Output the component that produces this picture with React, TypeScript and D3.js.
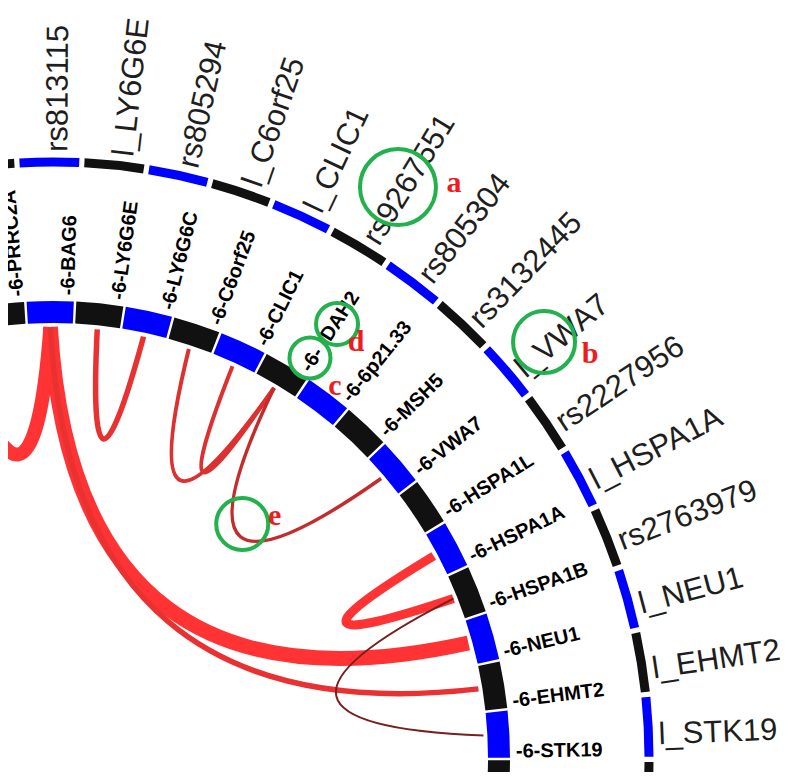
import { useEffect, useRef } from "react";
import * as d3 from "d3";

// ring slots run clockwise; "" = slot whose label falls outside the frame
const innerGenes = ["", "-6-PRRC2A", "-6-BAG6", "-6-LY6G6E", "-6-LY6G6C", "-6-C6orf25",
  "-6-CLIC1", "-6- DAH2", "-6-6p21.33", "-6-MSH5", "-6-VWA7", "-6-HSPA1L",
  "-6-HSPA1A", "-6-HSPA1B", "-6-NEU1", "-6-EHMT2", "-6-STK19", ""];

const outerLoci = ["", "", "rs813115", "l_LY6G6E", "rs805294", "l_C6orf25", "l_CLIC1",
  "rs9267551", "rs805304", "rs3132445", "l_VWA7", "rs2227956", "l_HSPA1A",
  "rs2763979", "l_NEU1", "l_EHMT2", "l_STK19", ""];

// links between inner slots (index into innerGenes) and their weight
const linkSource = [2, 2, 2, 3, 5, 6, 7, 12, 13];
const linkTarget = [0, 14, 15, 4, 7, 7, 10, 13, 16];
const linkWeight = [14, 15, 5.5, 5.5, 4, 4, 3.5, 9, 2];

export default function App() {
  const ref = useRef<SVGSVGElement>(null);

  useEffect(() => {
    const cx = 45, cy = 750;
    const rad = Math.PI / 180;

    const svg = d3.select(ref.current);
    svg.selectAll("*").remove();

    const slots = d3.range(innerGenes.length);
    const innerAngle = d3.scaleBand<number>().domain(slots).range([-15.95, 96.37])
      .paddingInner(0.05).paddingOuter(0.025);
    const outerAngle = d3.scaleBand<number>().domain(slots).range([-15.95, 96.37])
      .paddingInner(0.08).paddingOuter(0.04);
    const segFill = (i: number) => (i % 2 === 0 ? "#0000ff" : "#111111");
    const linkWidth = d3.scaleLinear().domain([0, 15]).range([0, 15]);
    const linkColor = d3.scaleLinear<string>().domain([2, 4, 8])
      .range(["#7a1e1e", "#dd3030", "#ff3333"]).clamp(true);

    const polar = (deg: number, r: number): [number, number] =>
      [r * Math.sin(deg * rad), -r * Math.cos(deg * rad)];

    const g = svg.append("g").attr("transform", `translate(${cx},${cy})`);

    // links: quadratic curves, control point pulled in less for wide spans
    const linkR = 431;
    const innerMid = (i: number) => innerAngle(i)! + innerAngle.bandwidth() / 2;
    const linkGeom = (s: number, t: number) => {
      const a0 = innerMid(s), a1 = innerMid(t);
      const half = (Math.abs(a1 - a0) / 2) * rad;
      const rc = linkR * 0.59 * Math.exp(-3.04 * half);
      return { p0: polar(a0, linkR), p1: polar(a1, linkR), c: polar((a0 + a1) / 2, rc) };
    };
    const links = linkSource.map((s, k) => ({ k, s, t: linkTarget[k], w: linkWeight[k] }))
      .sort((a, b) => b.w - a.w);

    g.append("g")
        .attr("fill", "none")
      .selectAll("path")
      .data(links)
      .join("path")
        .attr("d", d => {
          const { p0, p1, c } = linkGeom(d.s, d.t);
          const p = d3.path();
          p.moveTo(p0[0], p0[1]);
          p.quadraticCurveTo(c[0], c[1], p1[0], p1[1]);
          return p.toString();
        })
        .attr("stroke", d => linkColor(d.w))
        .attr("stroke-width", d => linkWidth(d.w));

    // rings
    const arc = d3.arc<any>();
    g.append("g")
      .selectAll("path")
      .data(slots)
      .join("path")
        .attr("d", i => arc({ innerRadius: 435, outerRadius: 457,
          startAngle: innerAngle(i)! * rad, endAngle: (innerAngle(i)! + innerAngle.bandwidth()) * rad }))
        .attr("fill", segFill);

    g.append("g")
      .selectAll("path")
      .data(slots)
      .join("path")
        .attr("d", i => arc({ innerRadius: 591.5, outerRadius: 600.5,
          startAngle: outerAngle(i)! * rad, endAngle: (outerAngle(i)! + outerAngle.bandwidth()) * rad }))
        .attr("fill", segFill);

    // labels
    const innerLabelAngle = (i: number) => innerAngle(i)! + innerAngle.bandwidth() * 0.85;
    const outerLabelAngle = (i: number) => outerAngle(i)! + outerAngle.bandwidth() * 0.617;
    const innerLabelR = 463, outerLabelR = 606;

    g.append("g")
        .attr("font-family", "'Liberation Sans', Arial, sans-serif")
        .attr("font-weight", "bold")
        .attr("font-size", 20)
        .attr("fill", "#000")
      .selectAll("text")
      .data(slots.filter(i => innerGenes[i]))
      .join("text")
        .attr("transform", i => `rotate(${innerLabelAngle(i) - 90}) translate(${innerLabelR},0)`)
        .attr("dy", "0.35em")
        .each(function (i) {
          d3.select(this).selectAll("tspan")
            .data(innerGenes[i].split(" "))
            .join("tspan")
              .attr("dx", (_d, j) => (j ? 12 : 0))
              .text(d => d);
        });

    g.append("g")
        .attr("font-family", "'Liberation Sans', Arial, sans-serif")
        .attr("font-size", 31)
        .attr("fill", "#1e1e1e")
      .selectAll("text")
      .data(slots.filter(i => outerLoci[i]))
      .join("text")
        .attr("transform", i => `rotate(${outerLabelAngle(i) - 90}) translate(${outerLabelR},0)`)
        .attr("dy", "0.35em")
        .text(i => outerLoci[i]);

    // green call-outs with letters
    const notes = [
      { letter: "a", ring: "outer", slot: 7, along: 61, across: -4.4, r: 38, lx: 56, ly: 4.5 },
      { letter: "b", ring: "outer", slot: 10, along: 37.5, across: -5.7, r: 31, lx: 46, ly: 21 },
      { letter: "c", ring: "inner", slot: 7, along: 12.4, across: -1.7, r: 20.5, lx: 25, ly: 37 },
      { letter: "d", ring: "inner", slot: 7, along: 55.7, across: 2.5, r: 21, lx: 19, ly: 27.5 },
      { letter: "e", link: 6, ox: 2, oy: -12.5, r: 26, lx: 32.5, ly: 1 },
    ];
    const noteCenter = (n: any): [number, number] => {
      if (n.link !== undefined) {
        const { p0, p1, c } = linkGeom(linkSource[n.link], linkTarget[n.link]);
        return [0.25 * (p0[0] + p1[0]) + 0.5 * c[0] + n.ox, 0.25 * (p0[1] + p1[1]) + 0.5 * c[1] + n.oy];
      }
      const a = n.ring === "outer" ? outerLabelAngle(n.slot) : innerLabelAngle(n.slot);
      const r0 = n.ring === "outer" ? outerLabelR : innerLabelR;
      const [x, y] = polar(a, r0 + n.along);
      return [x + n.across * Math.cos(a * rad), y + n.across * Math.sin(a * rad)];
    };

    const note = g.append("g")
      .selectAll("g")
      .data(notes)
      .join("g")
        .attr("transform", d => `translate(${noteCenter(d)})`);

    note.append("circle")
        .attr("r", d => d.r)
        .attr("fill", "none")
        .attr("stroke", "#22b14c")
        .attr("stroke-width", 4);

    note.append("text")
        .attr("x", d => d.lx)
        .attr("y", d => d.ly)
        .attr("text-anchor", "middle")
        .attr("font-family", "'Liberation Serif', 'DejaVu Serif', serif")
        .attr("font-weight", "bold")
        .attr("font-size", 30)
        .attr("fill", "#ee1c1c")
        .text(d => d.letter);
  }, []);

  return (
    <svg ref={ref} width={780} height={772}
      style={{ display: "block", marginBottom: -8, marginRight: -8 }} />
  );
}
